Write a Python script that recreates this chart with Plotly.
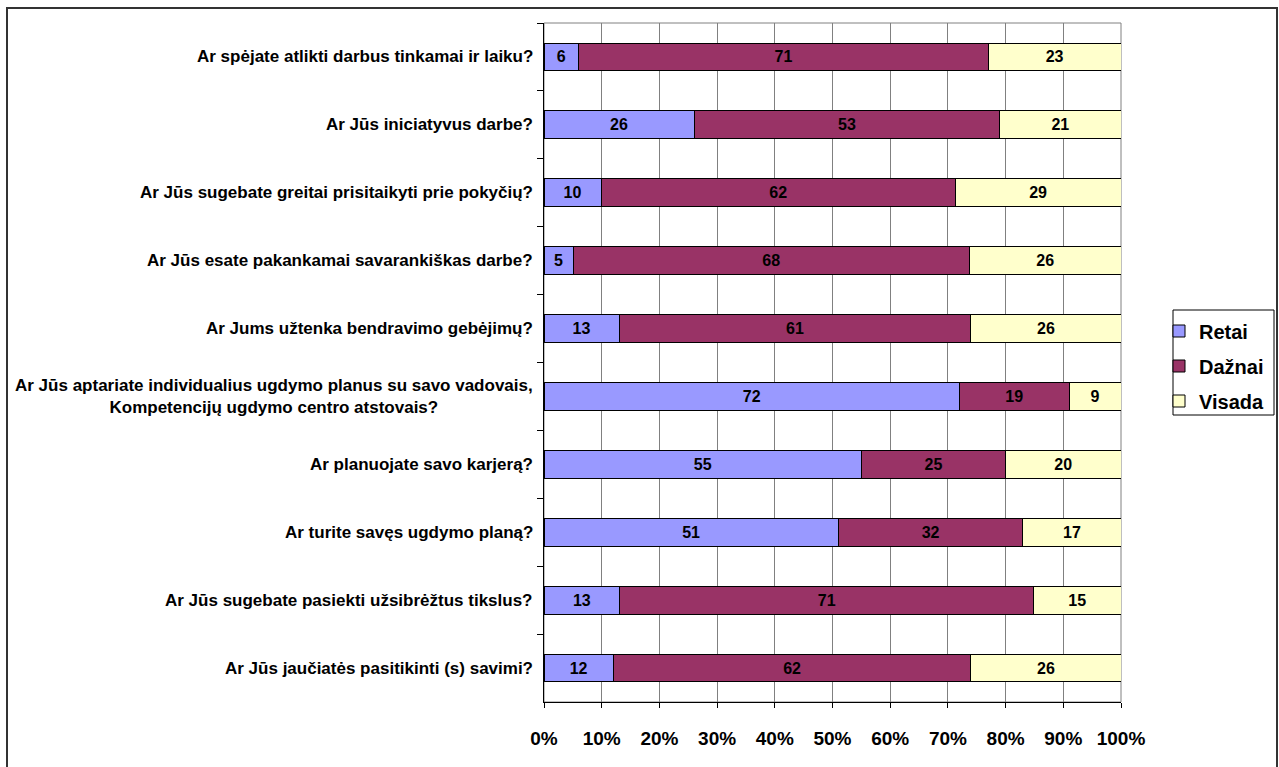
import plotly.graph_objects as go

# Survey questions, top to bottom
questions = [
    "Ar spėjate atlikti darbus tinkamai ir laiku?",
    "Ar Jūs iniciatyvus darbe?",
    "Ar Jūs sugebate greitai prisitaikyti prie pokyčių?",
    "Ar Jūs esate pakankamai savarankiškas darbe?",
    "Ar Jums užtenka bendravimo gebėjimų?",
    "Ar Jūs aptariate individualius ugdymo planus su savo vadovais,<br>Kompetencijų ugdymo centro atstovais?",
    "Ar planuojate savo karjerą?",
    "Ar turite savęs ugdymo planą?",
    "Ar Jūs sugebate pasiekti užsibrėžtus tikslus?",
    "Ar Jūs jaučiatės pasitikinti (s) savimi?",
]

retai = [6, 26, 10, 5, 13, 72, 55, 51, 13, 12]
dazai = [71, 53, 62, 68, 61, 19, 25, 32, 71, 62]
visada = [23, 21, 29, 26, 26, 9, 20, 17, 15, 26]

series = [
    ("Retai", retai, "#9999FF"),
    ("Dažnai", dazai, "#993366"),
    ("Visada", visada, "#FFFFCC"),
]

tick_vals = list(range(0, 101, 10))
tick_text = [f"{v}%" for v in tick_vals]

FONT = "Liberation Sans, Arial, sans-serif"
ids = list(range(len(questions)))

fig = go.Figure()
for name, vals, color in series:
    fig.add_trace(go.Bar(
        name=f"<b>{name}</b>",
        legendgroup=name,
        y=ids,
        x=vals,
        orientation="h",
        marker=dict(color=color, line=dict(color="#000000", width=1)),
        text=[f"<b>{v}</b>" for v in vals],
        texttemplate="%{text}",
        textposition="inside",
        insidetextanchor="middle",
        textangle=0,
        constraintext="none",
        textfont=dict(family=FONT, size=16, color="#000000"),
        hoverinfo="skip",
    ))

# Question labels, right-aligned against the axis, centred line by line
for i, q in enumerate(questions):
    fig.add_annotation(
        x=-0.015, y=i, xref="paper", yref="y",
        text=f"<b>{q}</b>", showarrow=False,
        xanchor="right", yanchor="middle", align="center",
        font=dict(family=FONT, size=17, color="#000000"),
    )

W, H = 1279, 767
L, R, T, B = 544, 1121, 23, 702
pw, ph = R - L, B - T

def px(x):
    return (x - L) / pw

def py(y):
    return (B - y) / ph

shapes = [
    # plot area frame
    dict(type="rect", xref="paper", yref="paper", x0=0, x1=1, y0=0, y1=1,
         line=dict(color="#808080", width=1), layer="below"),
    # legend box
    dict(type="rect", xref="paper", yref="paper",
         x0=px(1173), x1=px(1274), y0=py(415), y1=py(310),
         line=dict(color="#000000", width=1), fillcolor="#FFFFFF", layer="below"),
    # outer chart border
    dict(type="rect", xref="paper", yref="paper",
         x0=px(7), x1=px(1277), y0=py(790), y1=py(8),
         line=dict(color="#333333", width=2)),
]

fig.update_layout(
    width=W, height=H,
    margin=dict(l=L, r=W - R, t=T, b=H - B, pad=0, autoexpand=False),
    barmode="stack",
    barnorm="percent",
    bargap=0.59,
    plot_bgcolor="#FFFFFF",
    paper_bgcolor="#FFFFFF",
    font=dict(family=FONT, color="#000000"),
    shapes=shapes,
    showlegend=True,
    legend=dict(
        x=px(1159), y=py(366), xanchor="left", yanchor="middle",
        bgcolor="rgba(0,0,0,0)", borderwidth=0,
        font=dict(family=FONT, size=20, color="#000000", weight=700),
        tracegroupgap=6,
        traceorder="grouped",
    ),
)

fig.update_xaxes(
    range=[0, 100],
    tickvals=tick_vals, ticktext=tick_text,
    showgrid=True, gridcolor="#808080", gridwidth=1,
    showline=True, linecolor="#000000", linewidth=1,
    ticks="outside", ticklen=5, tickcolor="#000000",
    tickfont=dict(family=FONT, size=19, color="#000000", weight="bold"),
    ticklabelstandoff=14,
    zeroline=False, fixedrange=True,
)
fig.update_yaxes(
    type="category",
    categoryorder="array", categoryarray=ids,
    autorange="reversed",
    showticklabels=False,
    tickson="boundaries",
    ticks="outside", ticklen=6, tickcolor="#000000",
    showgrid=False,
    showline=True, linecolor="#000000", linewidth=1,
    zeroline=False, fixedrange=True,
)

fig.write_html("out.html")
